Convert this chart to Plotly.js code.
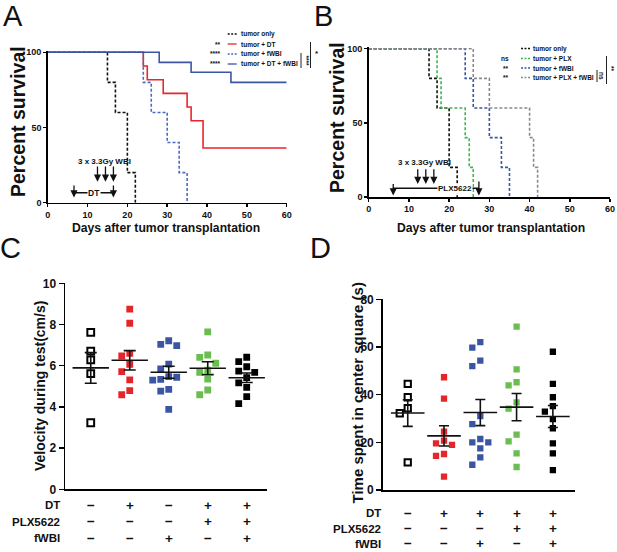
<!DOCTYPE html>
<html><head><meta charset="utf-8">
<script src="https://cdn.plot.ly/plotly-3.0.1.min.js"></script>
<style>html,body{margin:0;padding:0;background:#fff}#chart{width:617px;height:552px}</style>
</head><body><div id="chart"></div>
<script>
// ================= DATA =================
// Panel A – Kaplan-Meier steps (day, percent survival)
const aOnlyT = [0, 15, 17, 20, 22];
const aOnlyS = [100, 80, 60, 20, 0];
const aDtT = [0, 24, 25, 29, 35, 36, 39, 60];
const aDtS = [100, 90.9, 81.8, 72.7, 63.6, 54.5, 36.4, 36.4];
const aWbiT = [0, 24, 26, 30, 33, 35];
const aWbiS = [100, 80, 60, 40, 20, 0];
const aDtWbiT = [0, 28, 36, 46, 60];
const aDtWbiS = [100, 93.3, 86.7, 80, 80];
const aNames = ['tumor only', 'tumor + DT', 'tumor + fWBI', 'tumor + DT + fWBI'];
const aStars = ['', '**', '****', '****'];
const aWbiDays = [12.5, 14.5, 16.5];
const aDtDays = [6.6, 16.5];

// Panel B
const bOnlyT = [0, 15, 17, 20, 22];
const bOnlyS = [100, 80, 60, 20, 0];
const bPlxT = [0, 17, 18, 24, 25, 26];
const bPlxS = [100, 80, 60, 40, 20, 0];
const bWbiT = [0, 24, 26, 30, 33, 35];
const bWbiS = [100, 80, 60, 40, 20, 0];
const bPlxWbiT = [0, 26, 30, 40, 41, 42];
const bPlxWbiS = [100, 80, 60, 40, 20, 0];
const bNames = ['tumor only', 'tumor + PLX', 'tumor + fWBI', 'tumor + PLX + fWBI'];
const bStars = ['', 'ns', '**', '**'];
const bWbiDays = [12.2, 14.2, 16.2];
const bPlxDays = [6.1, 27.4];

const survTicks = [0, 10, 20, 30, 40, 50, 60];

// Panel C – velocity (cm/s)
const velCtrl = [7.62, 6.71, 6.28, 5.62, 3.23];
const velDT = [8.75, 8.06, 6.6, 6.47, 6.07, 5.71, 5.31, 4.79, 4.59];
const velWBI = [7.21, 7.04, 6.97, 6.08, 5.84, 5.47, 5.44, 5.34, 5.3, 4.85, 4.77, 3.88];
const velPLX = [7.64, 6.52, 6.4, 6.12, 5.79, 5.68, 5.35, 4.82, 4.59];
const velAll = [6.41, 6.2, 5.95, 5.74, 5.68, 5.42, 5.17, 4.95, 4.5, 4.16];

// Panel D – time in center square (s)
const tcCtrl = [44.5, 38.9, 34.3, 32.2, 11.6];
const tcDT = [47.3, 38.3, 24.5, 20.7, 19.6, 18.9, 15.1, 14.3, 5.6];
const tcWBI = [62.0, 59.7, 54.3, 52.0, 31.0, 27.6, 21.4, 20.0, 20.0, 17.5, 13.7, 10.6];
const tcPLX = [68.5, 50.6, 45.2, 43.9, 36.8, 34.1, 23.2, 20.4, 15.4, 9.65];
const tcAll = [58.0, 44.5, 38.9, 35.2, 32.9, 29.7, 25.9, 19.6, 15.4, 8.3];

const rowLabels = ['DT', 'PLX5622', 'fWBI'];
const cDT  = ['−', '+', '−', '+', '+'];
const cPLX = ['−', '−', '−', '+', '+'];
const cWBI = ['−', '−', '+', '−', '+'];
const dDT  = ['−', '+', '+', '+', '+'];
const dPLX = ['−', '−', '−', '+', '+'];
const dWBI = ['−', '−', '+', '−', '+'];

// ================= DRAWING =================
const FONT = 'Liberation Sans, Arial, Helvetica, sans-serif';
const W = 617, H = 552;
const px = x => x / W;
const py = y => 1 - y / H;

const traces = [];
const shapes = [];
const ann = [];

function surv(t, s, color, dash, xa, ya) {
  traces.push({type: 'scatter', mode: 'lines', x: t, y: s, xaxis: xa, yaxis: ya,
    line: {shape: 'hv', color: color, width: 1.6, dash: dash}, hoverinfo: 'skip', showlegend: false});
}
const DASH = '3px,2px';
const aStyles = [['#111', DASH], ['#e8262b', 'solid'], ['#4a6cc0', DASH], ['#3a55a4', 'solid']];
const bStyles = [['#111', DASH], ['#3db54a', DASH], ['#3a55a4', DASH], ['#8a8a8a', DASH]];
[[aOnlyT, aOnlyS], [aDtT, aDtS], [aWbiT, aWbiS], [aDtWbiT, aDtWbiS]].forEach((d, i) =>
  surv(d[0], d[1], aStyles[i][0], aStyles[i][1], 'x', 'y'));
[[bOnlyT, bOnlyS], [bPlxT, bPlxS], [bWbiT, bWbiS], [bPlxWbiT, bPlxWbiS]].forEach((d, i) =>
  surv(d[0], d[1], bStyles[i][0], bStyles[i][1], 'x2', 'y2'));

// legends (custom)
function legend(names, stars, styles, rowsY, lineX0, textX, starX) {
  names.forEach((n, i) => {
    shapes.push({type: 'line', xref: 'paper', yref: 'paper', x0: px(lineX0), x1: px(lineX0 + 9),
      y0: py(rowsY[i]), y1: py(rowsY[i]), line: {color: styles[i][0], width: 1.3, dash: styles[i][1] === 'solid' ? 'solid' : '2px,1.5px'}});
    ann.push({xref: 'paper', yref: 'paper', x: px(textX), y: py(rowsY[i]), xanchor: 'left', yanchor: 'middle',
      text: '<b>' + n + '</b>', showarrow: false, font: {family: FONT, size: 6.5, color: '#111'}});
    if (stars[i]) ann.push({xref: 'paper', yref: 'paper', x: px(starX), y: py(rowsY[i]), xanchor: 'right', yanchor: 'middle',
      text: '<b>' + stars[i] + '</b>', showarrow: false, font: {family: FONT, size: 6.5, color: '#111'}});
  });
}
legend(aNames, aStars, aStyles, [34, 44, 54, 64], 227.7, 239.3, 223);
legend(bNames, bStars, bStyles, [48.5, 58.5, 68, 77.5], 521, 531, 510.5);

function vline(x, y0, y1, w) {
  shapes.push({type: 'line', xref: 'paper', yref: 'paper', x0: px(x), x1: px(x), y0: py(y0), y1: py(y1), line: {color: '#222', width: w || 1}});
}
function ptext(x, y, t, size, angle, anchor) {
  ann.push({xref: 'paper', yref: 'paper', x: px(x), y: py(y), text: t, showarrow: false, textangle: angle || 0,
    xanchor: anchor || 'center', yanchor: 'middle', font: {family: FONT, size: size, color: '#111'}});
}
// significance brackets
vline(301, 53, 68); ptext(306, 60.5, '<b>****</b>', 6.5, 90);
vline(310.5, 42, 68); ptext(316.5, 54, '<b>*</b>', 8);
vline(597, 70, 82); ptext(601, 76, '<b>ns</b>', 6.5, 90);
vline(606.5, 56, 84); ptext(612, 69, '<b>**</b>', 6.5, 90);

// treatment arrows
function arrow(xa, ya, x, yHead, yTail) {
  ann.push({xref: xa, yref: ya, axref: xa, ayref: ya, x: x, y: yHead, ax: x, ay: yTail, text: '', showarrow: true,
    arrowhead: 2, arrowsize: 1.1, arrowwidth: 1.3, arrowcolor: '#111'});
}
aWbiDays.forEach(d => arrow('x', 'y', d, 14, 25));
aDtDays.forEach(d => arrow('x', 'y', d, 3.5, 12.5));
shapes.push({type: 'line', xref: 'x', yref: 'y', x0: aDtDays[0], x1: aDtDays[1], y0: 6.6, y1: 6.6, line: {color: '#111', width: 1.3}});
ann.push({xref: 'x', yref: 'y', x: (aDtDays[0] + aDtDays[1]) / 2, y: 6.6, text: '<b>DT</b>', showarrow: false, bgcolor: '#fff',
  borderpad: 0, font: {family: FONT, size: 8.5, color: '#111'}});
ann.push({xref: 'x', yref: 'y', x: (aWbiDays[0] + aWbiDays[2]) / 2 - 0.3, y: 27.5, text: '<b>3 x 3.3Gy WBI</b>', showarrow: false,
  font: {family: FONT, size: 8, color: '#111'}});

bWbiDays.forEach(d => arrow('x2', 'y2', d, 8.8, 19.8));
arrow('x2', 'y2', bPlxDays[0], 1, 9.8);
arrow('x2', 'y2', bPlxDays[1], 1, 11.5);
shapes.push({type: 'line', xref: 'x2', yref: 'y2', x0: bPlxDays[0], x1: bPlxDays[1], y0: 5.9, y1: 5.9, line: {color: '#111', width: 1.3}});
ann.push({xref: 'x2', yref: 'y2', x: 21.5, y: 5.9, text: '<b>PLX5622</b>', showarrow: false, bgcolor: '#fff',
  borderpad: 0, font: {family: FONT, size: 8, color: '#111'}});
ann.push({xref: 'x2', yref: 'y2', x: (bWbiDays[0] + bWbiDays[2]) / 2 - 0.3, y: 23.5, text: '<b>3 x 3.3Gy WBI</b>', showarrow: false,
  font: {family: FONT, size: 8, color: '#111'}});

// scatter dot plots
function swarm(vals, yPx, xPx, step, thrX, thrY) {
  const order = vals.map((v, i) => i).sort((a, b) => vals[b] - vals[a]);
  const placed = [];
  const off = new Array(vals.length).fill(0);
  order.forEach(i => {
    const y = vals[i] * yPx;
    for (let k = 0; k < 30; k++) {
      const m = k === 0 ? 0 : (k % 2 ? -Math.ceil(k / 2) : Math.ceil(k / 2));
      const x = m * step;
      if (!placed.some(p => Math.abs(p.x - x) < thrX && Math.abs(p.y - y) < thrY)) {
        placed.push({x: x, y: y}); off[i] = x / xPx; break;
      }
    }
  });
  return off;
}
const mean = a => a.reduce((s, v) => s + v, 0) / a.length;
const sem = a => { const m = mean(a); return Math.sqrt(a.reduce((s, v) => s + (v - m) * (v - m), 0) / (a.length - 1)) / Math.sqrt(a.length); };
const gColors = ['#000', '#e4262b', '#3a55a4', '#6abd4f', '#000'];

function dotPanel(groups, xa, ya, yPx, xPx, msize, meanW, capW) {
  groups.forEach((vals, g) => {
    const off = swarm(vals, yPx, xPx, 8, 7.5, 8.5);
    traces.push({type: 'scatter', mode: 'markers', xaxis: xa, yaxis: ya,
      x: vals.map((v, i) => g + 1 + off[i]), y: vals, hoverinfo: 'skip', showlegend: false,
      marker: g === 0 ? {symbol: 'square-open', size: msize, color: '#000', line: {width: 2, color: '#000'}}
                      : {symbol: 'square', size: msize, color: gColors[g], line: {width: 0}}});
  });
  groups.forEach((vals, g) => {
    traces.push({type: 'scatter', mode: 'markers', xaxis: xa, yaxis: ya, x: [g + 1], y: [mean(vals)],
      hoverinfo: 'skip', showlegend: false,
      marker: {symbol: 'line-ew', size: meanW, color: '#000', line: {width: 1.6, color: '#111'}},
      error_y: {type: 'data', array: [sem(vals)], visible: true, width: capW, thickness: 1.6, color: '#111'}});
  });
}
dotPanel([velCtrl, velDT, velWBI, velPLX, velAll], 'x3', 'y3', 20.6, 39, 6.8, 26, 6);
dotPanel([tcCtrl, tcDT, tcWBI, tcPLX, tcAll], 'x4', 'y4', 2.384, 36.3, 6.3, 24, 5);

// row labels under dot plots
function rows(xa, labels, signs, ys, labelX) {
  labels.forEach((lab, r) => {
    ptext(labelX, ys[r], '<b>' + lab + '</b>', 11.5, 0, 'right');
    signs[r].forEach((s, g) => ann.push({xref: xa, yref: 'paper', x: g + 1, y: py(ys[r]), text: '<b>' + s + '</b>',
      showarrow: false, xanchor: 'center', yanchor: 'middle', font: {family: FONT, size: 13.5, color: '#111'}}));
  });
}
rows('x3', rowLabels, [cDT, cPLX, cWBI], [505, 521.5, 538], 62);
rows('x4', rowLabels, [dDT, dPLX, dWBI], [513, 528.5, 543.5], 383);

// titles & panel letters
ptext(18, 122, '<b>Percent survival</b>', 19.5, -90);
ptext(337, 118, '<b>Percent survival</b>', 19.5, -90);
ptext(166, 227.5, '<b>Days after tumor transplantation</b>', 12.2);
ptext(491, 227.5, '<b>Days after tumor transplantation</b>', 12.2);
ptext(40, 386, '<b>Velocity during test(cm/s)</b>', 14, -90);
ptext(356.5, 393, '<b>Time spent in center square (s)</b>', 15, -90);
ptext(13, 16, 'A', 29);
ptext(323, 16, 'B', 29);
ptext(10, 248, 'C', 29);
ptext(320, 248, 'D', 29);

const axBase = {showline: true, linecolor: '#000', linewidth: 1.5, ticks: 'outside', ticklen: 3, tickwidth: 1.5,
  tickcolor: '#000', showgrid: false, zeroline: false, fixedrange: true,
  tickfont: {family: FONT, size: 9, color: '#111', weight: 'bold'}};
const big = {family: FONT, size: 12, color: '#111', weight: 'bold'};

const layout = {
  width: W, height: H, margin: {l: 0, r: 0, t: 0, b: 0}, paper_bgcolor: '#fff', plot_bgcolor: 'rgba(0,0,0,0)',
  showlegend: false, font: {family: FONT},
  xaxis:  Object.assign({}, axBase, {domain: [px(47.7), px(286.7)], range: [0, 60], tickvals: survTicks, anchor: 'y'}),
  yaxis:  Object.assign({}, axBase, {domain: [py(202.7), py(50.8)], range: [0, 101], tickvals: [0, 50, 100], anchor: 'x'}),
  xaxis2: Object.assign({}, axBase, {domain: [px(368.7), px(610)], range: [0, 60], tickvals: survTicks, anchor: 'y2'}),
  yaxis2: Object.assign({}, axBase, {domain: [py(197), py(47.2)], range: [0, 101], tickvals: [0, 50, 100], anchor: 'x2'}),
  xaxis3: Object.assign({}, axBase, {domain: [px(65), px(267)], range: [0.34, 5.52], ticks: '', showticklabels: false, anchor: 'y3'}),
  yaxis3: Object.assign({}, axBase, {domain: [py(489.3), py(283.3)], range: [0, 10], dtick: 2, ticklen: 5, tickfont: big, anchor: 'x3'}),
  xaxis4: Object.assign({}, axBase, {domain: [px(382.7), px(575)], range: [0.31, 5.61], ticks: '', showticklabels: false, anchor: 'y4'}),
  yaxis4: Object.assign({}, axBase, {domain: [py(490), py(299.3)], range: [0, 80], dtick: 20, ticklen: 5, tickfont: big, anchor: 'x4'}),
  shapes: shapes,
  annotations: ann
};
Plotly.newPlot('chart', traces, layout, {staticPlot: true, displayModeBar: false});
</script>
</body></html>
